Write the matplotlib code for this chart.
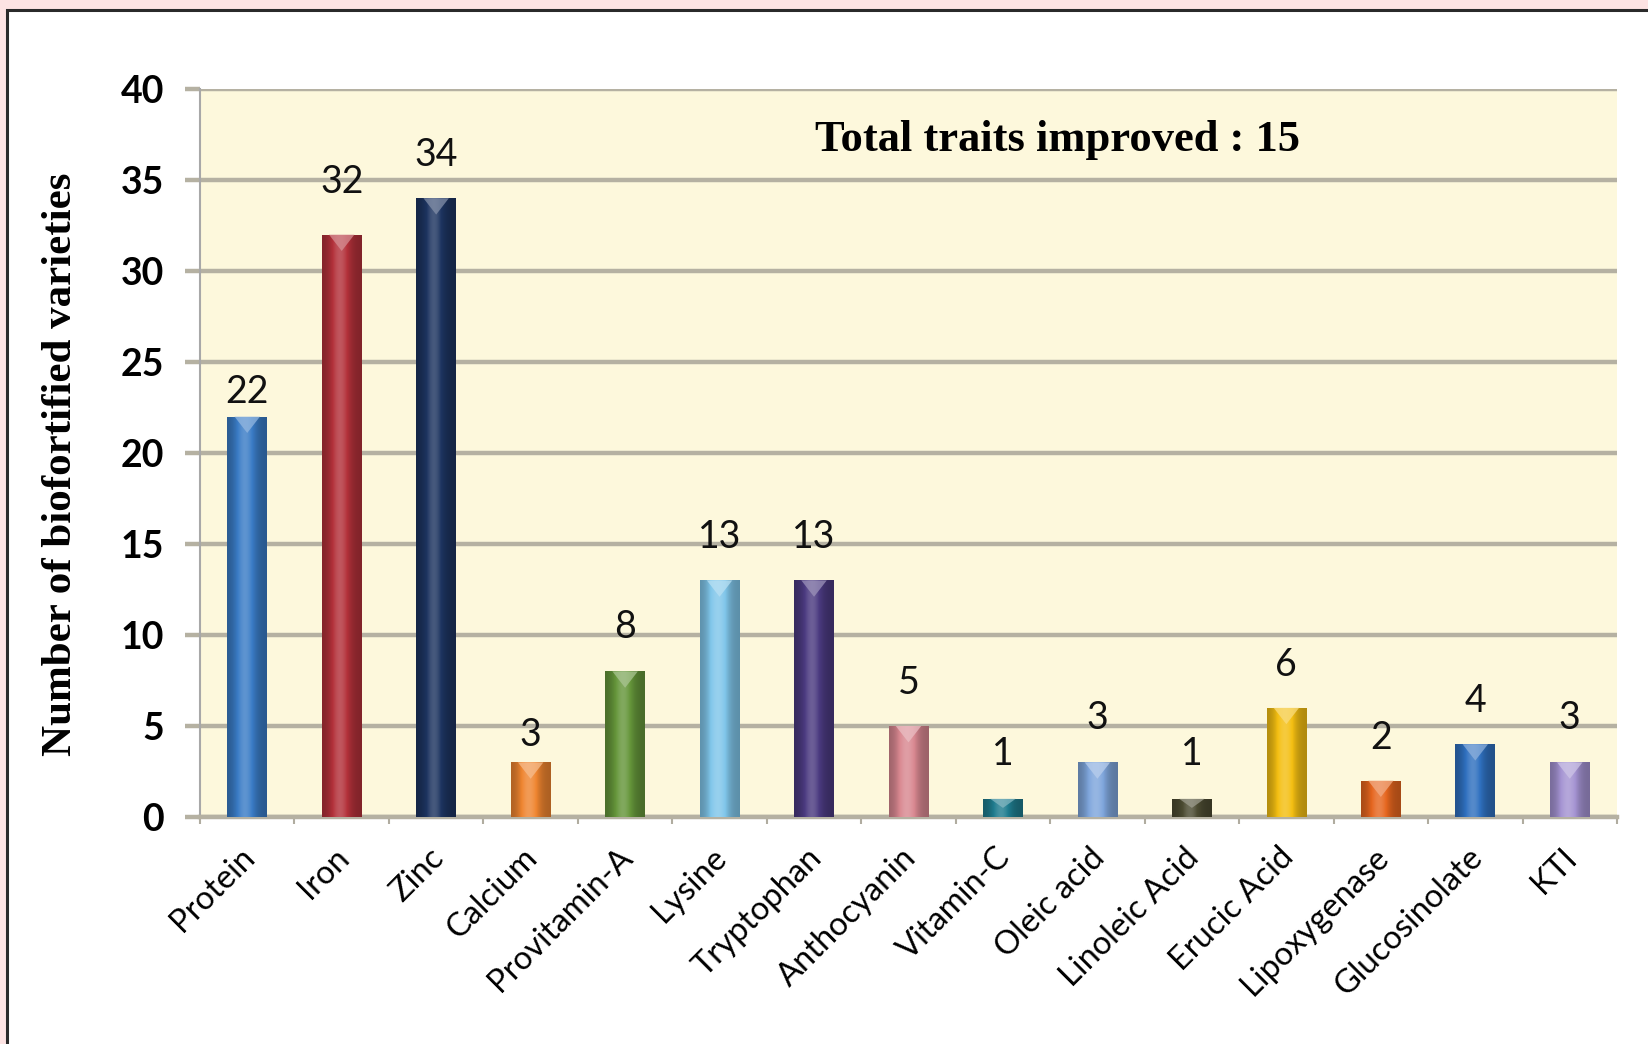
import numpy as np
import matplotlib
matplotlib.use("Agg")
import matplotlib.pyplot as plt
import matplotlib.transforms as mtransforms
from matplotlib.patches import Rectangle, Polygon
from matplotlib.colors import to_rgb

traits = ["Protein", "Iron", "Zinc", "Calcium", "Provitamin-A", "Lysine",
          "Tryptophan", "Anthocyanin", "Vitamin-C", "Oleic acid",
          "Linoleic Acid", "Erucic Acid", "Lipoxygenase", "Glucosinolate", "KTI"]
varieties = [22, 32, 34, 3, 8, 13, 13, 5, 1, 3, 1, 6, 2, 4, 3]
bar_colors = ["#3a7cc6", "#b3313a", "#1d3460", "#ef8530", "#65963a", "#80c6ea",
              "#4b3a80", "#d98891", "#1f7c8e", "#7fa6dc", "#4c4b32", "#f4bf12",
              "#e6661f", "#2f70bf", "#a493d2"]
yticks = [0, 5, 10, 15, 20, 25, 30, 35, 40]
# vertical lift (points) of each value label above its bar
label_lift = [18, 38, 31, 20, 32, 31, 31, 31, 32, 32, 32, 31, 31, 31, 32]

W, H = 1649, 1044
fig = plt.figure(figsize=(W / 100, H / 100), dpi=100)
fig.patch.set_facecolor("#fde3e3")

# white panel with a dark frame on top/left
panel = Rectangle((7 / W, -0.2), 2.0, 1.2 - 10 / H, transform=fig.transFigure,
                  facecolor="white", edgecolor="#2a2a2a", linewidth=2.2, zorder=-5)
fig.patches.append(panel)

ax = fig.add_axes([200 / W, 1 - 817 / H, (1617 - 200) / W, (817 - 89) / H])
ax.set_facecolor("#fdf8dc")

x = np.arange(len(traits))
bars = ax.bar(x, varieties, width=0.42, color=bar_colors, zorder=3, linewidth=0)


def shade(rgb, f):
    rgb = np.array(rgb)
    if f >= 1:
        return rgb + (1 - rgb) * (f - 1)
    return rgb * f


# cylinder shading on each bar
cols = 64
u = np.linspace(0, 1, cols)
profile = 0.72 + 0.46 * np.exp(-((u - 0.45) / 0.26) ** 2)
for b, c in zip(bars, bar_colors):
    rgb = to_rgb(c)
    img = np.array([[np.clip(shade(rgb, p), 0, 1) for p in profile]])
    x0, w, h = b.get_x(), b.get_width(), b.get_height()
    im = ax.imshow(img, extent=(x0, x0 + w, 0, h), aspect="auto",
                   interpolation="bilinear", zorder=4)
    im.set_clip_path(b)
    # light V-shaped highlight at the top of the bar
    cap = min(0.9, h * 0.5)
    tri = Polygon([(x0 + w * 0.18, h), (x0 + w * 0.82, h), (x0 + w * 0.5, h - cap)],
                  closed=True, facecolor=np.clip(shade(rgb, 1.45), 0, 1),
                  edgecolor="none", alpha=0.75, zorder=5)
    ax.add_patch(tri)

ax.set_xlim(-0.5, len(traits) - 0.5)
ax.set_ylim(0, 40)

ax.set_yticks(yticks)
ax.set_yticklabels([str(t) for t in yticks], fontsize=27, fontweight="bold",
                   family="Lato")
ax.yaxis.grid(True, color="#b5b1a2", linewidth=3.2, zorder=1)
ax.set_axisbelow(True)
ax.tick_params(axis="y", length=11, width=3.2, color="#b5b1a2", pad=15)

ax.set_xticks(x)
ax.set_xticklabels(traits, rotation=45, ha="right", rotation_mode="anchor",
                   fontsize=23.5, family="Lato")
ax.tick_params(axis="x", length=0, pad=16)
ax.set_xticks(np.arange(len(traits) + 1) - 0.5, minor=True)
ax.tick_params(axis="x", which="minor", length=5, width=1.5, color="#b0aca0")
shift = mtransforms.ScaledTranslation(-8 / 100, -3 / 100, fig.dpi_scale_trans)
for lbl in ax.get_xticklabels():
    lbl.set_transform(lbl.get_transform() + shift)

for s in ["top", "right"]:
    ax.spines[s].set_visible(False)
ax.spines["left"].set_color("#a8a8a8")
ax.spines["left"].set_linewidth(1.5)
ax.spines["bottom"].set_color("#b5b1a2")
ax.spines["bottom"].set_linewidth(3.2)

for xi, v, lift in zip(x, varieties, label_lift):
    ax.annotate(str(v), (xi, v), xytext=(0, lift), textcoords="offset points",
                ha="center", va="center", fontsize=27, family="Lato",
                color="#111111", zorder=6)

ax.set_ylabel("Number of biofortified varieties", fontsize=31, fontweight="bold",
              family="Liberation Serif")
ax.yaxis.set_label_coords(-0.0845, 0.485)

ax.text(0.605, 0.93, "Total traits improved : 15", transform=ax.transAxes,
        ha="center", va="center", fontsize=32, fontweight="bold",
        family="Liberation Serif", zorder=6)

fig.savefig("out.png", dpi=100, facecolor=fig.get_facecolor())
